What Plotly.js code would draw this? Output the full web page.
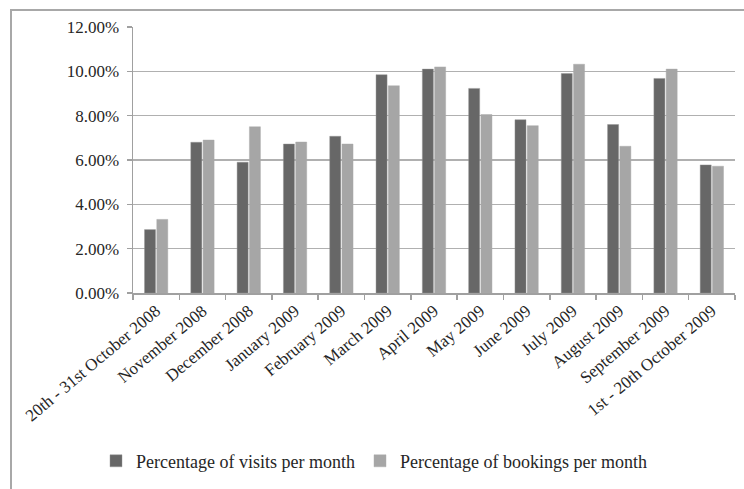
<!DOCTYPE html>
<html>
<head>
<meta charset="utf-8">
<script src="https://cdn.plot.ly/plotly-3.0.1.min.js"></script>
<style>
  html, body { margin: 0; padding: 0; background: #ffffff; overflow: hidden; }
  #frame {
    position: absolute; left: 10px; top: 9px; width: 780px; height: 520px;
    border: 2px solid #a8a8a8; box-sizing: border-box;
  }
  #chart { position: absolute; left: 0; top: 0; width: 744px; height: 489px; }
</style>
</head>
<body>
<div id="frame"></div>
<div id="chart"></div>
<script>
// Monthly share of site visits and bookings (percent)
const months = [
  "20th - 31st October 2008", "November 2008", "December 2008", "January 2009",
  "February 2009", "March 2009", "April 2009", "May 2009", "June 2009",
  "July 2009", "August 2009", "September 2009", "1st - 20th October 2009"
];
const visitsPct   = [2.86, 6.80, 5.90, 6.72, 7.07, 9.85, 10.10, 9.23, 7.82, 9.90, 7.60, 9.68, 5.78];
const bookingsPct = [3.32, 6.90, 7.50, 6.81, 6.72, 9.35, 10.20, 8.05, 7.55, 10.32, 6.62, 10.10, 5.72];
const visitsName   = "Percentage of visits per month";
const bookingsName = "Percentage of bookings per month";

const serif = "Times New Roman, Liberation Serif, DejaVu Serif, serif";
const textColor = "#262626";

const traces = [
  {
    type: "bar", x: months, y: visitsPct, name: visitsName,
    marker: { color: "#676767", line: { color: "rgba(150,150,150,0.55)", width: 0.8 } },
    legend: "legend", hoverinfo: "x+y"
  },
  {
    type: "bar", x: months, y: bookingsPct, name: bookingsName,
    marker: { color: "#a6a6a6", line: { color: "rgba(170,170,170,0.55)", width: 0.8 } },
    legend: "legend2", hoverinfo: "x+y"
  }
];

// plot area spans 133..735 px horizontally, 27..296 px vertically
const plotL = 133, plotW = 602, plotT = 27, plotH = 269;
const px2x = p => (p - plotL) / plotW;
const px2y = p => (plotT + plotH - p) / plotH;

const legendCommon = {
  orientation: "h", yanchor: "middle", xanchor: "left",
  bgcolor: "rgba(0,0,0,0)", borderwidth: 0,
  font: { family: serif, size: 18, color: textColor },
  itemwidth: 30
};

const layout = {
  width: 744, height: 489,
  margin: { l: 133, r: 9, t: 27, b: 193, pad: 0 },
  paper_bgcolor: "rgba(0,0,0,0)",
  plot_bgcolor: "rgba(0,0,0,0)",
  barmode: "group",
  bargap: 0.47,
  bargroupgap: 0.1,
  font: { family: serif, color: textColor },
  xaxis: {
    type: "category",
    tickangle: -40,
    tickfont: { family: serif, size: 17, color: textColor },
    showgrid: false,
    showline: true, linecolor: "#a0a0a0", linewidth: 1.5,
    ticks: "outside", tickson: "boundaries", ticklen: 5, tickcolor: "#a0a0a0", tickwidth: 1.5,
    zeroline: false,
    fixedrange: true
  },
  yaxis: {
    range: [0, 12],
    dtick: 2, tick0: 0,
    tickformat: ".2f", ticksuffix: "%",
    tickfont: { family: serif, size: 17, color: textColor },
    showgrid: true, gridcolor: "#b0b0b0", gridwidth: 1.3,
    showline: true, linecolor: "#a0a0a0", linewidth: 1.5,
    ticks: "outside", ticklen: 5, tickcolor: "#a0a0a0", tickwidth: 1.5,
    ticklabelstandoff: 4,
    zeroline: false,
    fixedrange: true
  },
  legend: Object.assign({}, legendCommon, { x: px2x(96), y: px2y(466) }),
  legend2: Object.assign({}, legendCommon, { x: px2x(360), y: px2y(466) }),
  showlegend: true
};

Plotly.newPlot("chart", traces, layout, { displayModeBar: false, staticPlot: true });
</script>
</body>
</html>
